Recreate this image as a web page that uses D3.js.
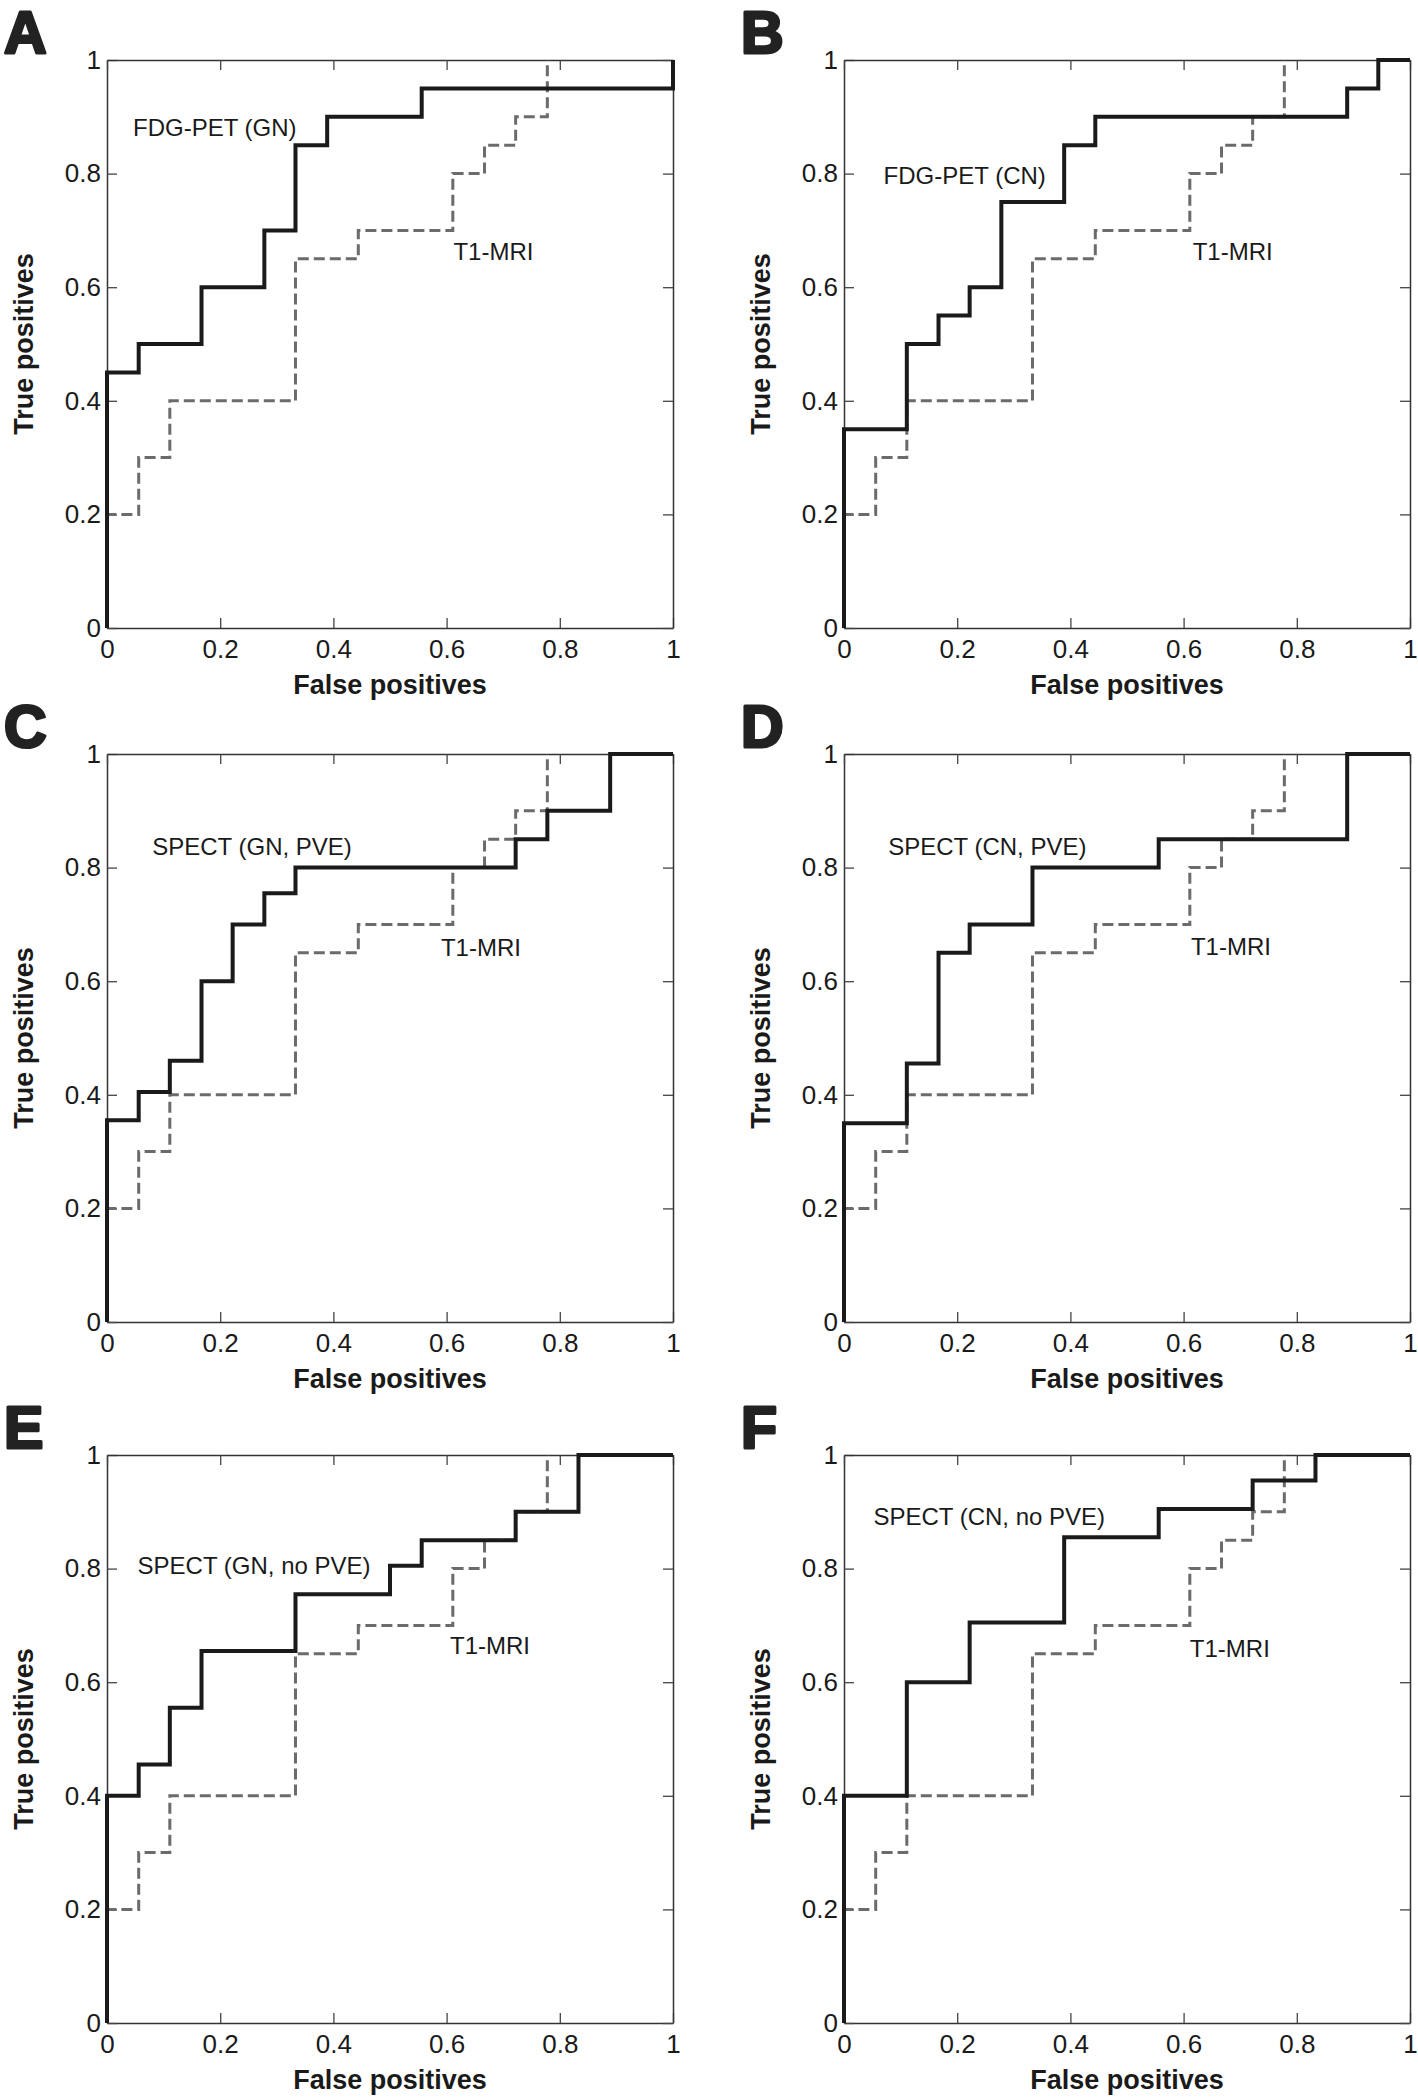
<!DOCTYPE html>
<html>
<head>
<meta charset="utf-8">
<script src="https://cdn.jsdelivr.net/npm/d3@7"></script>
<style>
    body { margin: 0; background: #fff; }
</style>
</head>
<body>
<div id="graph_roc"></div>
<script>

// data (false positive fraction, true positive fraction) - ROC step corners

const fpT1 = [0, 0, 0.056, 0.111, 0.333, 0.444, 0.611, 0.667, 0.722, 0.778];
const tpT1 = [0, 0.2, 0.3, 0.4, 0.65, 0.7, 0.8, 0.85, 0.9, 1];

const fpA = [0, 0, 0.056, 0.167, 0.278, 0.333, 0.389, 0.556, 1];
const tpA = [0, 0.45, 0.5, 0.6, 0.7, 0.85, 0.9, 0.95, 1];

const fpB = [0, 0, 0.111, 0.167, 0.222, 0.278, 0.389, 0.444, 0.889, 0.944, 1];
const tpB = [0, 0.35, 0.5, 0.55, 0.6, 0.75, 0.85, 0.9, 0.95, 1, 1];

const fpC = [0, 0, 0.056, 0.111, 0.167, 0.222, 0.278, 0.333, 0.722, 0.778, 0.889, 1];
const tpC = [0, 0.355, 0.405, 0.46, 0.6, 0.7, 0.755, 0.8, 0.85, 0.9, 1, 1];

const fpD = [0, 0, 0.111, 0.167, 0.222, 0.333, 0.556, 0.889, 1];
const tpD = [0, 0.35, 0.455, 0.65, 0.7, 0.8, 0.85, 1, 1];

const fpE = [0, 0, 0.056, 0.111, 0.167, 0.333, 0.5, 0.556, 0.722, 0.833, 1];
const tpE = [0, 0.4, 0.455, 0.555, 0.655, 0.755, 0.805, 0.85, 0.9, 1, 1];

const fpF = [0, 0, 0.111, 0.222, 0.389, 0.556, 0.722, 0.833, 1];
const tpF = [0, 0.4, 0.6, 0.705, 0.855, 0.905, 0.955, 1, 1];

const panelLetters = ["A", "B", "C", "D", "E", "F"];
const curveNames = ["FDG-PET (GN)", "FDG-PET (CN)", "SPECT (GN, PVE)", "SPECT (CN, PVE)",
    "SPECT (GN, no PVE)", "SPECT (CN, no PVE)"];
const refName = "T1-MRI";
const fpSeries = [fpA, fpB, fpC, fpD, fpE, fpF];
const tpSeries = [tpA, tpB, tpC, tpD, tpE, tpF];

const tickVals = [0, 0.2, 0.4, 0.6, 0.8, 1];
const tickLabels = ["0", "0.2", "0.4", "0.6", "0.8", "1"];

// layout

const colX = [107, 844];
const rowY = [60, 754, 1455];
const plotW = 566, plotH = 568;
// where the curve names sit, in axis units
const namePos = [[0.046, 0.866], [0.07, 0.782], [0.08, 0.823], [0.078, 0.823], [0.054, 0.791], [0.052, 0.876]];
const refPos = [[0.612, 0.648], [0.616, 0.648], [0.59, 0.644], [0.613, 0.646], [0.606, 0.649], [0.611, 0.645]];

const font = "'Liberation Sans', Arial, Helvetica, sans-serif";

const svg = d3.select("#graph_roc")
    .append("svg")
    .attr("width", 1418)
    .attr("height", 2099)
    .style("font-family", font);

var x = d3.scaleLinear().domain([0, 1]).range([0, plotW]);
var y = d3.scaleLinear().domain([0, 1]).range([plotH, 0]);

var rocLine = d3.line()
    .x(d => x(d[0]))
    .y(d => y(d[1]))
    .curve(d3.curveStepAfter);

function styleAxis(sel) {
    sel.attr("font-family", font).attr("font-size", 26);
    sel.select(".domain").attr("stroke", "#333").attr("stroke-width", 1.5);
    sel.selectAll(".tick line").attr("stroke", "#444").attr("stroke-width", 1.3);
    sel.selectAll(".tick text").attr("fill", "#1a1a1a");
}

panelLetters.forEach(function(letter, i) {
    let g = svg.append("g")
        .attr("transform", "translate(" + colX[i % 2] + "," + rowY[Math.floor(i / 2)] + ")");

    // axes (box with inward ticks on all sides)
    g.append("g")
        .attr("transform", "translate(0," + plotH + ")")
        .call(d3.axisBottom(x).tickValues(tickVals).tickFormat((d, k) => tickLabels[k])
            .tickSizeInner(-10).tickSizeOuter(0).tickPadding(12))
        .call(styleAxis);

    g.append("g")
        .call(d3.axisLeft(y).tickValues(tickVals).tickFormat((d, k) => tickLabels[k])
            .tickSizeInner(-10).tickSizeOuter(0).tickPadding(6))
        .call(styleAxis);

    g.append("g")
        .call(d3.axisTop(x).tickValues(tickVals).tickFormat("")
            .tickSizeInner(-10).tickSizeOuter(0))
        .call(styleAxis);

    g.append("g")
        .attr("transform", "translate(" + plotW + ",0)")
        .call(d3.axisRight(y).tickValues(tickVals).tickFormat("")
            .tickSizeInner(-10).tickSizeOuter(0))
        .call(styleAxis);

    // axis titles
    g.append("text")
        .attr("x", plotW / 2)
        .attr("y", plotH + 66)
        .attr("text-anchor", "middle")
        .attr("font-size", 27)
        .attr("font-weight", "bold")
        .attr("fill", "#1a1a1a")
        .text("False positives");

    g.append("text")
        .attr("transform", "translate(-74," + (plotH / 2) + ") rotate(-90)")
        .attr("text-anchor", "middle")
        .attr("font-size", 27)
        .attr("font-weight", "bold")
        .attr("fill", "#1a1a1a")
        .text("True positives");

    // panel letter
    g.append("text")
        .attr("x", -103)
        .attr("y", -7)
        .attr("font-size", 59)
        .attr("font-weight", "bold")
        .attr("fill", "#222")
        .attr("stroke", "#222")
        .attr("stroke-width", 3)
        .attr("stroke-linejoin", "round")
        .text(letter);

    // T1-MRI reference curve (dashed)
    g.append("path")
        .datum(d3.zip(fpT1, tpT1))
        .attr("d", rocLine)
        .attr("fill", "none")
        .attr("stroke", "#6b6b6b")
        .attr("stroke-width", 3)
        .attr("stroke-dasharray", "11,5");

    // main curve (solid)
    g.append("path")
        .datum(d3.zip(fpSeries[i], tpSeries[i]))
        .attr("d", rocLine)
        .attr("fill", "none")
        .attr("stroke", "#1a1a1a")
        .attr("stroke-width", 4)
        .attr("stroke-linejoin", "miter");

    // curve names
    g.append("text")
        .attr("x", x(namePos[i][0]))
        .attr("y", y(namePos[i][1]))
        .attr("font-size", 24)
        .attr("fill", "#1a1a1a")
        .text(curveNames[i]);

    g.append("text")
        .attr("x", x(refPos[i][0]))
        .attr("y", y(refPos[i][1]))
        .attr("font-size", 24)
        .attr("fill", "#1a1a1a")
        .text(refName);
});

// end roc
</script>
</body>
</html>
